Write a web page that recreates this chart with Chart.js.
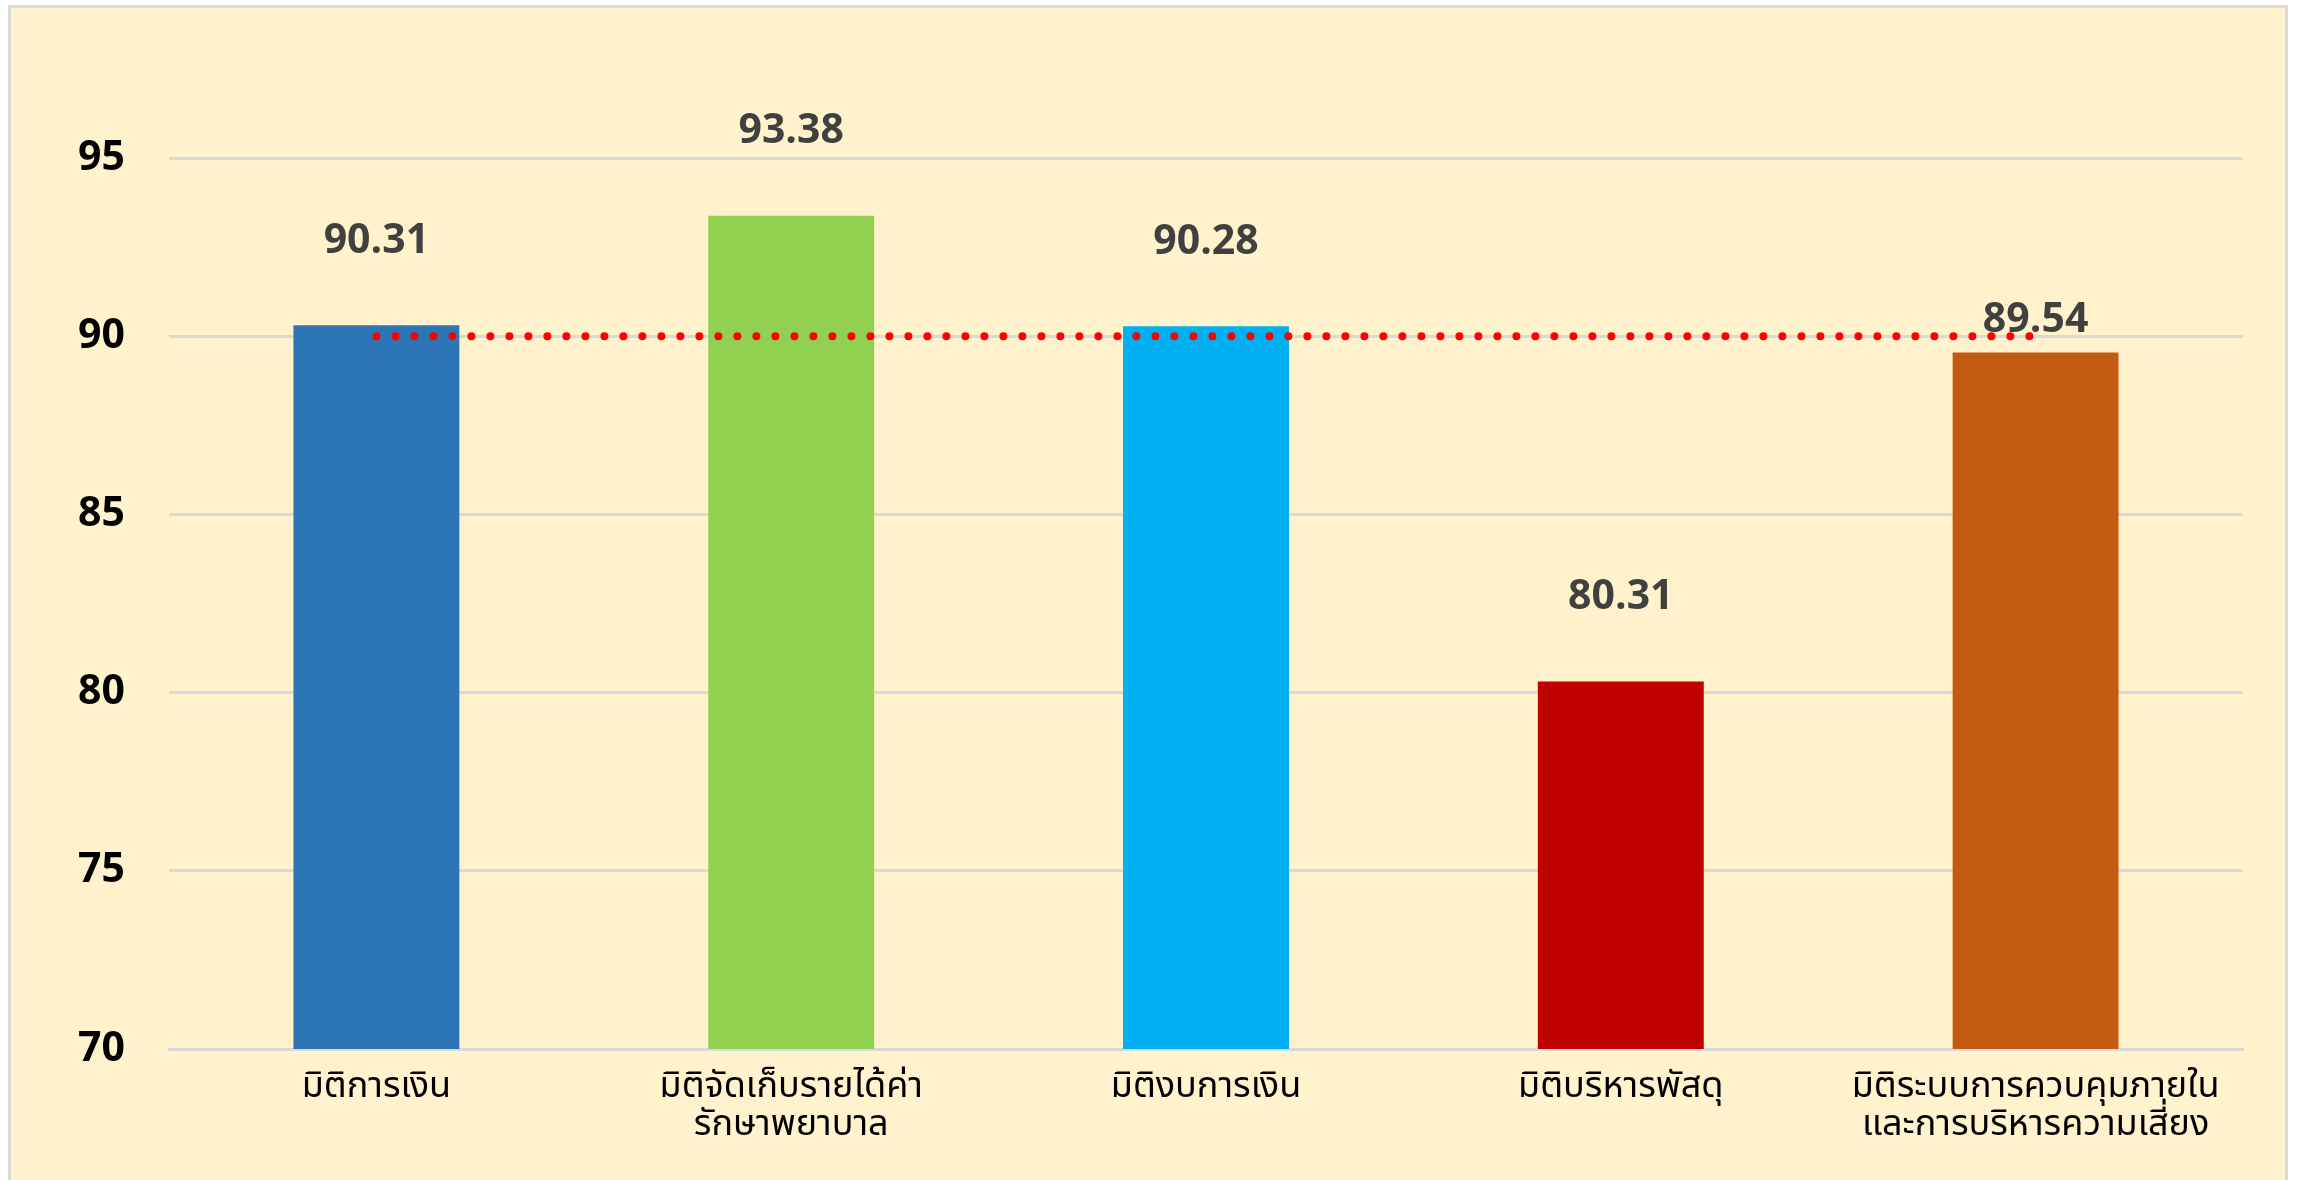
<!DOCTYPE html>
<html>
<head>
<meta charset="utf-8">
<script src="https://cdn.jsdelivr.net/npm/chart.js@4.4.1/dist/chart.umd.min.js"></script>
<style>
    html, body { margin: 0; padding: 0; background: #ffffff; }
    body { width: 2300px; height: 1180px; position: relative; overflow: hidden; }
    .frame {
        position: absolute; left: 8px; top: 5px; width: 2274px; height: 1190px;
        border: 3px solid #d9d9d9; background: #fff2cc;
    }
    #grafico { position: absolute; left: 0; top: 0; }
</style>
</head>
<body>
<div class="frame"></div>
<canvas id="grafico" width="2300" height="1180"></canvas>
<script>
// dados do gráfico
const categorias = [
    "มิติการเงิน",
    ["มิติจัดเก็บรายได้ค่า", "รักษาพยาบาล"],
    "มิติงบการเงิน",
    "มิติบริหารพัสดุ",
    ["มิติระบบการควบคุมภายใน", "และการบริหารความเสี่ยง"]
];
const valores = [90.31, 93.38, 90.28, 80.31, 89.54];
const meta = [90, 90, 90, 90, 90];
const ticksY = [70, 75, 80, 85, 90, 95];

const cores = ["#2e75b6", "#92d050", "#00b0f0", "#c00000", "#c55a11"];
// distância do rótulo até o topo da barra
const distRotulo = [84, 84, 84, 84, 32];

const fonteNum = "'Open Sans', 'Liberation Sans', sans-serif";
const fonteThai = "Tahoma, 'Noto Sans Thai', 'Noto Sans', sans-serif";

// rótulos de valor acima das barras
const rotulosPlugin = {
    id: "rotulos",
    afterDatasetsDraw(chart) {
        const ctx = chart.ctx;
        const barras = chart.getDatasetMeta(1).data; // dataset 1 = barras
        ctx.save();
        ctx.font = "bold 41px " + fonteNum;
        ctx.fillStyle = "#404040";
        ctx.textAlign = "center";
        ctx.textBaseline = "middle";
        barras.forEach((b, i) => {
            ctx.fillText(valores[i].toFixed(2), b.x, b.y - distRotulo[i]);
        });
        ctx.restore();
    }
};

new Chart(document.getElementById("grafico"), {
    data: {
        labels: categorias,
        datasets: [{
            type: "line",
            data: meta,
            borderColor: "#ff0000",
            borderWidth: 8,
            borderDash: [0, 19],
            borderCapStyle: "round",
            pointRadius: 0,
            fill: false,
            order: 0
        }, {
            type: "bar",
            data: valores,
            backgroundColor: cores,
            barPercentage: 0.8,
            categoryPercentage: 0.5,
            order: 1
        }]
    },
    options: {
        responsive: false,
        animation: false,
        layout: { padding: { top: 158, right: 57, left: 0, bottom: 0 } },
        plugins: {
            legend: { display: false },
            tooltip: { enabled: false }
        },
        scales: {
            x: {
                grid: { display: false },
                border: { color: "#d9d9d9", width: 3 },
                ticks: {
                    color: "#000000",
                    padding: 14,
                    maxRotation: 0,
                    font: { family: fonteThai, size: 36, lineHeight: 1.05 }
                },
                afterFit(scale) { scale.height = 131; }
            },
            y: {
                min: ticksY[0],
                max: ticksY[ticksY.length - 1],
                afterBuildTicks(scale) {
                    scale.ticks = ticksY.map(v => ({ value: v }));
                },
                grid: { color: "#d9d9d9", lineWidth: 3, drawTicks: false },
                border: { display: false },
                ticks: {
                    color: "#000000",
                    padding: 44,
                    font: { family: fonteNum, size: 41, weight: "bold" }
                },
                afterFit(scale) { scale.width = 169; }
            }
        }
    },
    plugins: [rotulosPlugin]
});
</script>
</body>
</html>
